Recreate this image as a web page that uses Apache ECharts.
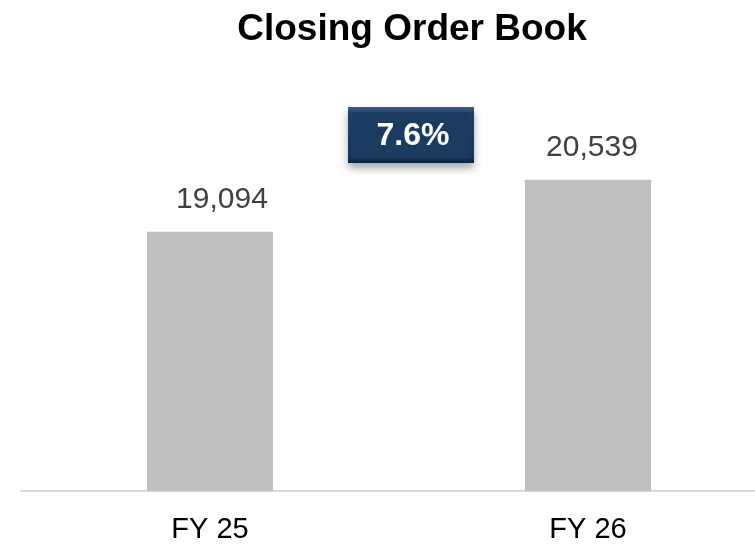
<!DOCTYPE html>
<html>
<head>
<meta charset="utf-8">
<script src="https://cdn.jsdelivr.net/npm/echarts@6/dist/echarts.min.js"></script>
<style>html,body{margin:0;padding:0;background:#fff;overflow:hidden;width:755px;height:544px}#c{width:777px;height:544px}</style>
</head>
<body>
<div id="c"></div>
<script>
var categories = ['FY 25', 'FY 26'];
var closingOrderBook = [19094, 20539];
var growthLabel = '7.6%';
var chartTitle = 'Closing Order Book';

var chart = echarts.init(document.getElementById('c'), null, {renderer: 'canvas'});
var FONT = '"Liberation Sans", Arial, sans-serif';
var labelShift = [12, 4];
chart.setOption({
  animation: false,
  backgroundColor: '#ffffff',
  title: {
    text: chartTitle,
    left: 407, top: 6, textAlign: 'center',
    textStyle: {fontFamily: FONT, fontWeight: 'bold', fontSize: 37, color: '#000000'}
  },
  grid: {left: 21, right: 0, top: 128, bottom: 52, containLabel: false},
  xAxis: {
    type: 'category', data: categories,
    axisLine: {show: true, lineStyle: {color: '#d9d9d9', width: 2}},
    axisTick: {show: false},
    axisLabel: {fontFamily: FONT, fontSize: 29, color: '#000000', margin: 24}
  },
  yAxis: {type: 'value', show: false, min: 11870, max: 21984, splitLine: {show: false}},
  series: [{
    type: 'bar', barWidth: 126,
    data: closingOrderBook.map(function (v, i) {
      return {value: v, label: {offset: [labelShift[i], 0]}};
    }),
    itemStyle: {color: '#bfbfbf'},
    label: {
      show: true, position: 'top', distance: 17,
      fontFamily: FONT, fontSize: 30, color: '#404040',
      formatter: function (p) { return p.value.toLocaleString('en-US'); }
    }
  }],
  graphic: [
    {
      type: 'rect', left: 348, top: 107, z: 10,
      shape: {width: 126, height: 56},
      style: {
        fill: new echarts.graphic.LinearGradient(0, 0, 0, 1, [
          {offset: 0, color: '#3a5f88'}, {offset: 0.12, color: '#1d3f66'},
          {offset: 0.88, color: '#17375c'}, {offset: 1, color: '#0e2440'}
        ]),
        shadowBlur: 8, shadowOffsetY: 5, shadowColor: 'rgba(0,0,0,0.35)'
      }
    },
    {
      type: 'rect', left: 353, top: 112, z: 11,
      shape: {width: 116, height: 46},
      style: {fill: '#1b3b60'}
    },
    {
      type: 'text', x: 413, y: 136, z: 12,
      style: {
        text: growthLabel, fill: '#ffffff', fontFamily: FONT, fontWeight: 'bold', fontSize: 32,
        align: 'center', verticalAlign: 'middle'
      }
    }
  ]
});
</script>
</body>
</html>
